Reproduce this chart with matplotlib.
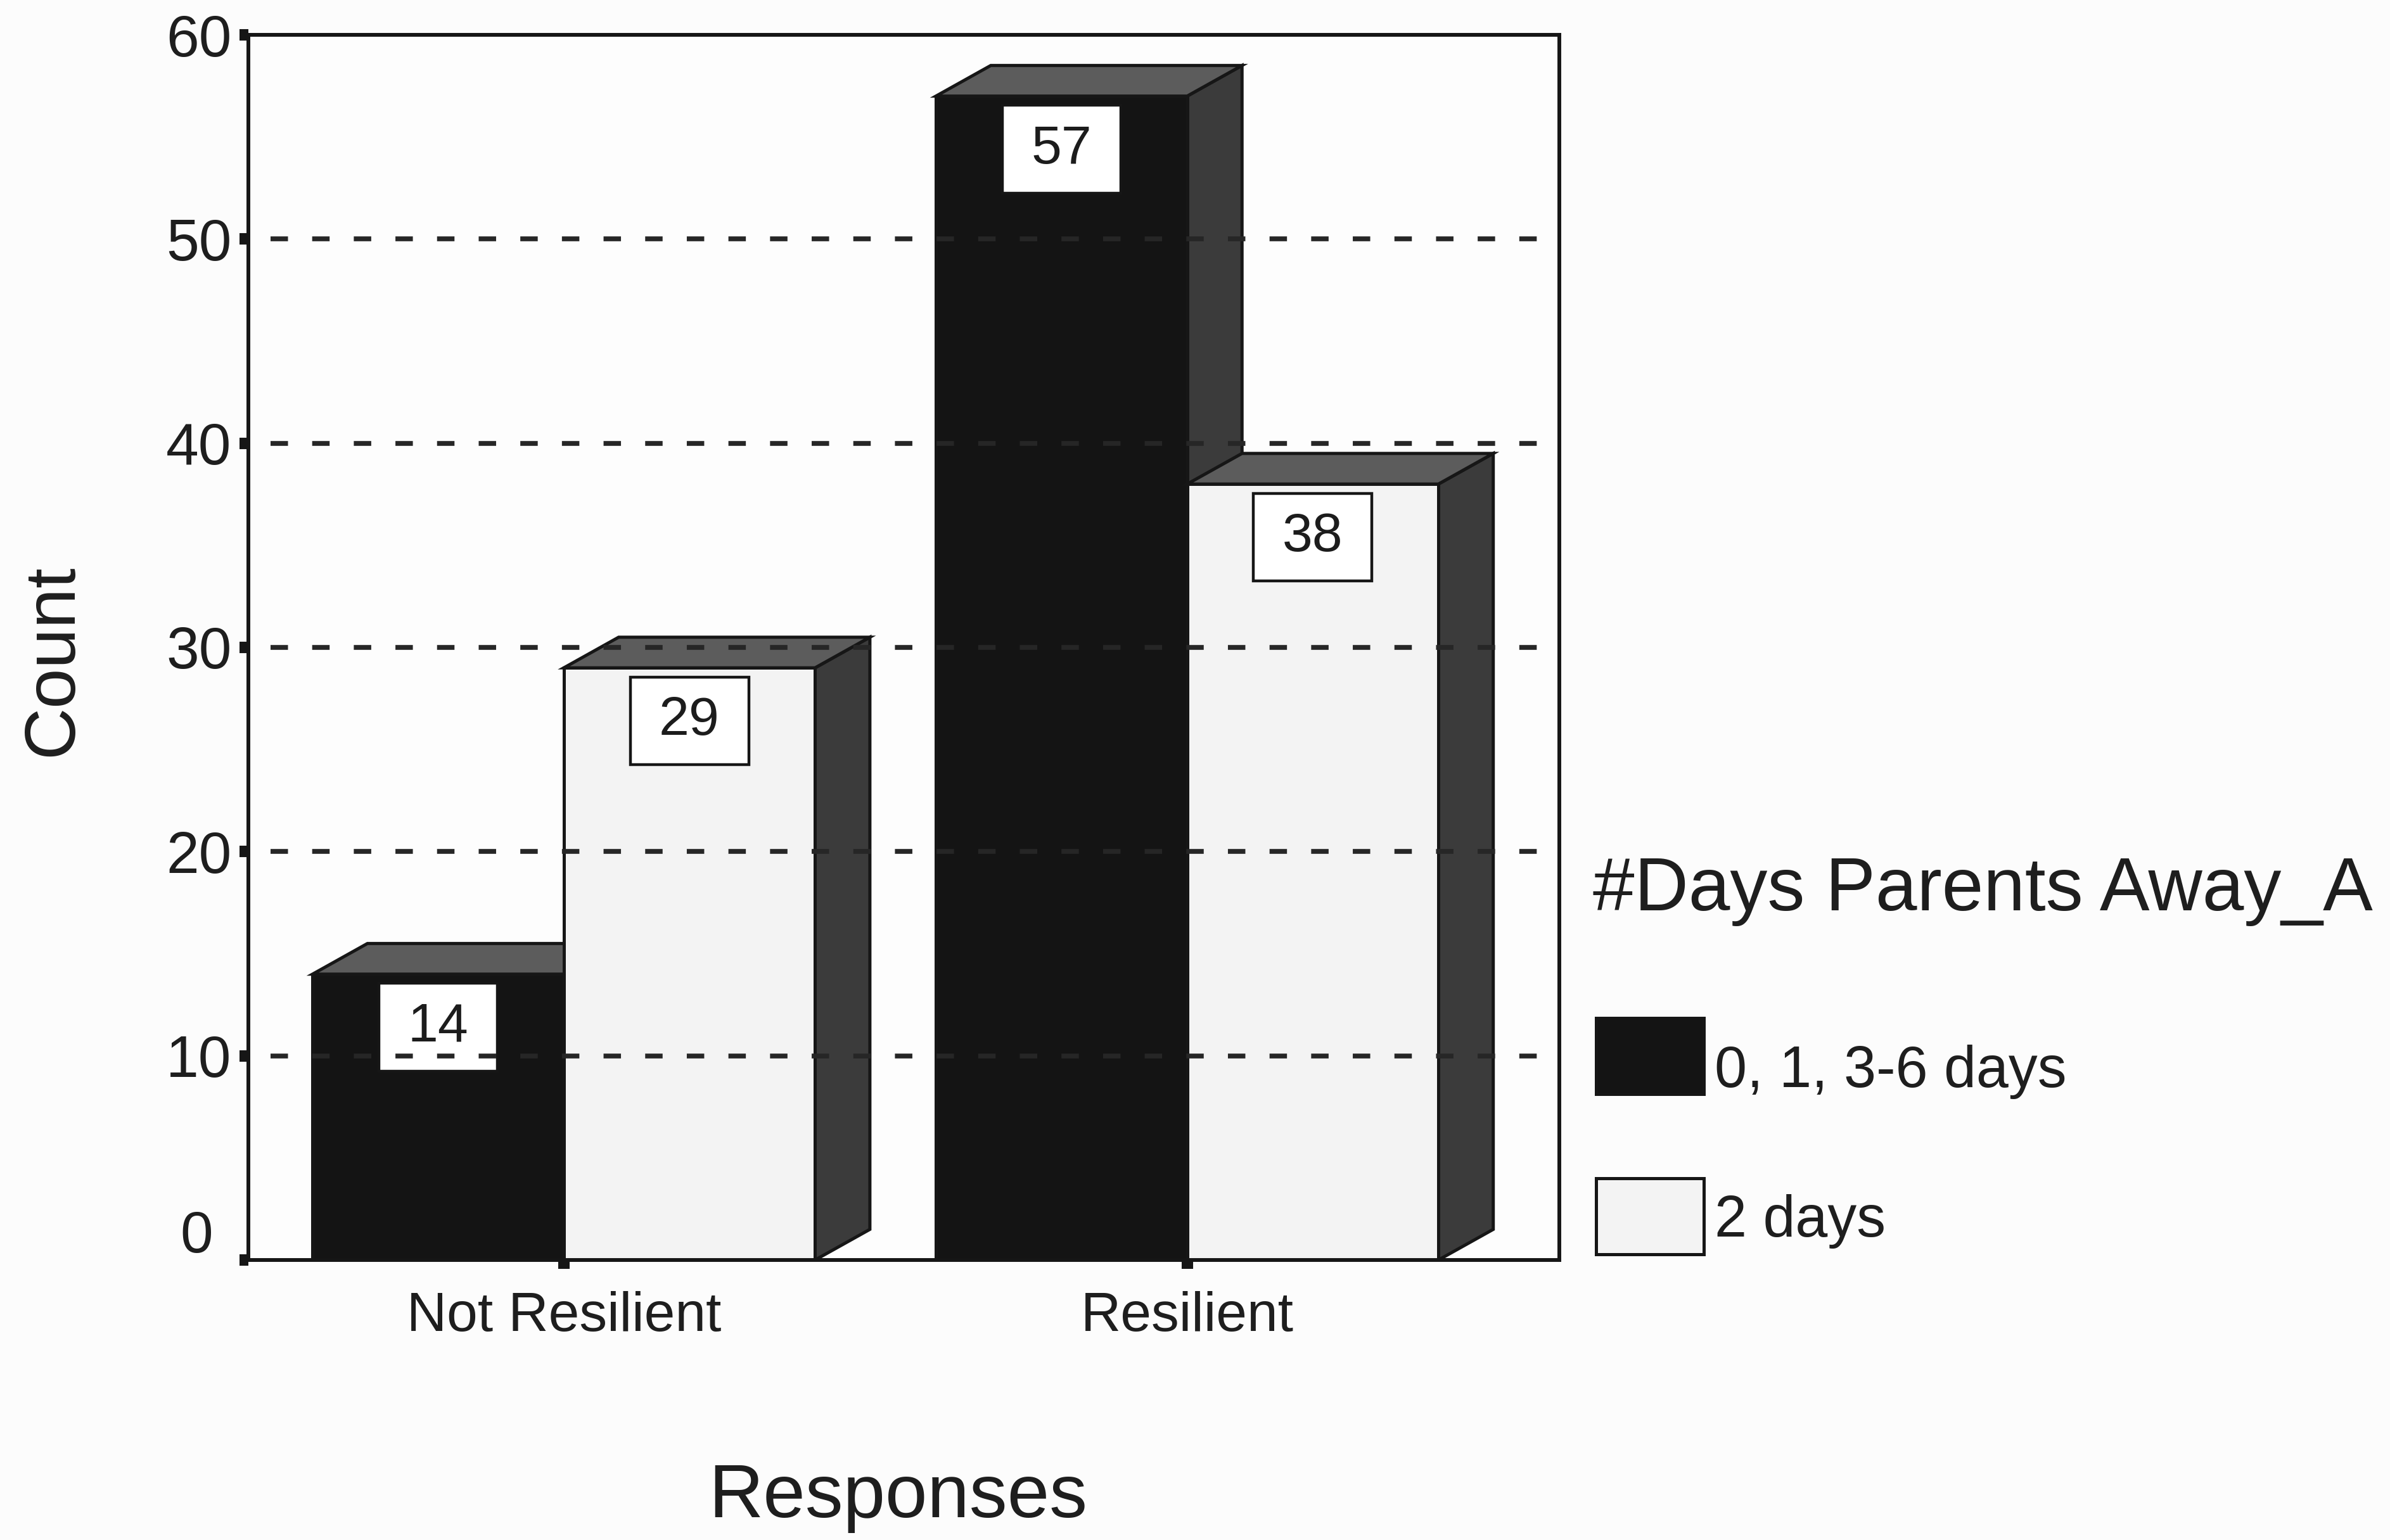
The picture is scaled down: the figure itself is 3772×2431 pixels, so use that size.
import matplotlib
matplotlib.use("Agg")
import matplotlib.pyplot as plt
import matplotlib.transforms as mtransforms
from matplotlib.patches import Polygon, Rectangle

# ---- data ----
categories = ["Not Resilient", "Resilient"]
series_names = ["0, 1, 3-6 days", "2 days"]
counts_0136 = [14, 57]
counts_2days = [29, 38]
y_ticks = [0, 10, 20, 30, 40, 50, 60]
legend_title = "#Days Parents Away_A"
x_title = "Responses"
y_title = "Count"

plt.rcParams['font.family'] = ['Liberation Sans', 'DejaVu Sans']

W, H = 3772, 2431
DPI = 100
fig = plt.figure(figsize=(W / DPI, H / DPI), dpi=DPI, facecolor='#fcfcfc')


def fx(px):
    return px / W


def fy(py):
    return 1 - py / H


ax = fig.add_axes([fx(392), fy(1989), fx(2461 - 392), (1989 - 55) / H])
ax.set_facecolor('#fdfdfd')
ax.set_xlim(-0.506, 1.597)
ax.set_ylim(0, 60)

ink = '#161616'
front_colors = ['#141414', '#f3f3f3']
side_color = '#3b3b3b'
top_color = '#5c5c5c'
edge_lw = 3.6

bar_w = 0.403       # width of each bar's front face (category units)
depth_x = 0.088     # oblique depth of the 3-D boxes
depth_y = 1.5


def draw_box(x0, v, face, z):
    x1 = x0 + bar_w
    kw = dict(edgecolor=ink, lw=edge_lw, joinstyle='miter', zorder=z)
    ax.add_patch(Polygon([(x1, 0), (x1, v), (x1 + depth_x, v + depth_y),
                          (x1 + depth_x, depth_y)], closed=True,
                         facecolor=side_color, **kw))
    ax.add_patch(Polygon([(x0, v), (x1, v), (x1 + depth_x, v + depth_y),
                          (x0 + depth_x, v + depth_y)], closed=True,
                         facecolor=top_color, **kw))
    ax.add_patch(Rectangle((x0, 0), bar_w, v, facecolor=face, **kw))


def draw_value_label(xc, v):
    bw, bh, gap = 0.19, 4.3, 0.45
    ax.add_patch(Rectangle((xc - bw / 2, v - gap - bh), bw, bh,
                           facecolor='white', edgecolor=ink, lw=3.2,
                           zorder=10))
    ax.text(xc, v - gap - bh / 2, f"{v}", ha='center', va='center',
            fontsize=62, color='#1c1c1c', zorder=14)


z = 2
for i, cat in enumerate(categories):
    for s, vals in enumerate([counts_0136, counts_2days]):
        x0 = i - bar_w if s == 0 else i
        draw_box(x0, vals[i], front_colors[s], z)
        z += 1
for i, cat in enumerate(categories):
    for s, vals in enumerate([counts_0136, counts_2days]):
        x0 = i - bar_w if s == 0 else i
        draw_value_label(x0 + bar_w / 2, vals[i])

# dashed reference lines drawn across the bars
for yv in y_ticks[1:-1]:
    ax.plot([-0.47, 1.585], [yv, yv], color='#262626', lw=5.5,
            linestyle=(0, (3.6, 5.0)), solid_capstyle='butt',
            dash_capstyle='butt', zorder=12)

for sp in ax.spines.values():
    sp.set_linewidth(4.3)
    sp.set_color(ink)
    sp.set_zorder(20)

ax.set_yticks(y_ticks)
ax.set_yticklabels([str(t) for t in y_ticks])
ax.set_xticks(range(len(categories)))
ax.set_xticklabels(categories)
ax.tick_params(axis='y', direction='out', length=10, width=13, pad=9,
               labelsize=67, colors=ink, labelcolor='#1e1e1e')
ax.tick_params(axis='x', direction='out', length=10, width=13, pad=25,
               labelsize=63, colors=ink, labelcolor='#1e1e1e')

# the zero label sits slightly up and to the left
zero_lbl = ax.get_yticklabels()[0]
zero_lbl.set_transform(zero_lbl.get_transform() +
                       mtransforms.ScaledTranslation(-30 / DPI, 46 / DPI,
                                                     fig.dpi_scale_trans))

ax.set_ylabel(y_title, fontsize=82, color='#1e1e1e')
ax.yaxis.label.set_va('center')
ax.yaxis.set_label_coords((84 - 392) / (2461 - 392), (1989 - 1042) / (1989 - 55))
ax.set_xlabel(x_title, fontsize=86, color='#1e1e1e')
ax.xaxis.label.set_va('center')
ax.xaxis.set_label_coords((1417 - 392) / (2461 - 392), (1989 - 2365) / (1989 - 55))

# ---- legend ----
fig.text(fx(2514), fy(1407), legend_title, ha='left', va='center',
         fontsize=85, color='#1e1e1e')
swatch_tops = [1607, 1860]
label_centers = [1692, 1928]
for name, col, top, lc in zip(series_names, front_colors, swatch_tops, label_centers):
    fig.add_artist(Rectangle((fx(2519), fy(top + 120)), fx(170), 120 / H,
                             transform=fig.transFigure, facecolor=col,
                             edgecolor=ink, lw=3.6))
    fig.text(fx(2706), fy(lc), name, ha='left', va='center', fontsize=66,
             color='#1e1e1e')

fig.savefig('out.png', dpi=DPI, facecolor=fig.get_facecolor())
